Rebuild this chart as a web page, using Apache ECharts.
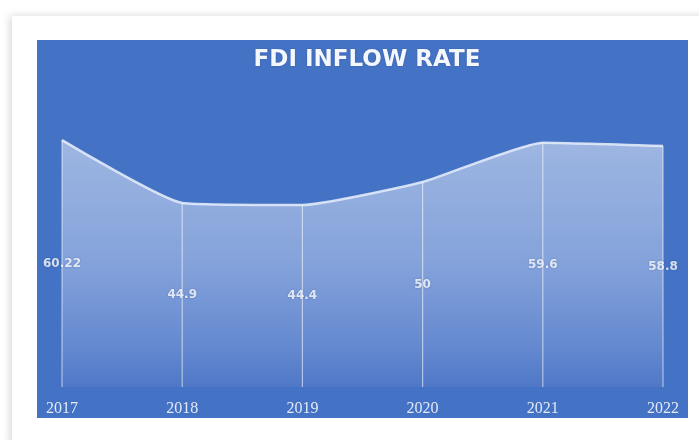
<!DOCTYPE html>
<html><head><meta charset="utf-8">
<script src="https://cdn.jsdelivr.net/npm/echarts@6/dist/echarts.min.js"></script>
<style>html,body{margin:0;padding:0;background:#fff}#c{width:699px;height:440px}</style>
</head><body><div id="c"></div>
<script>
const years = ['2017','2018','2019','2020','2021','2022'];
const fdiValues = [60.22, 44.9, 44.4, 50, 59.6, 58.8];
const labelTexts = ['60.22','44.9','44.4','50','59.6','58.8'];

const chart = echarts.init(document.getElementById('c'));
chart.setOption({
  backgroundColor: '#ffffff',
  animation: false,
  graphic: [
    {type:'rect', shape:{x:12,y:16,width:700,height:430}, style:{fill:'#ffffff', shadowBlur:8, shadowColor:'rgba(0,0,0,0.16)', shadowOffsetX:-2}, z:-10},
    {type:'rect', shape:{x:37,y:40,width:651,height:378}, style:{fill:'#4472c4'}, z:-5}
  ],
  title: {
    text: 'FDI INFLOW RATE', left: 362, top: 44, textAlign: 'center',
    textStyle: {color:'#f4f7fd', fontFamily:'DejaVu Sans', fontWeight:'bold', fontSize:23, textShadowColor:'rgba(0,0,0,0.2)', textShadowBlur:2}
  },
  grid: {left: 62, right: 36, top: 100, bottom: 53},
  xAxis: {
    type:'category', data: years, boundaryGap:false,
    axisLine:{show:false}, axisTick:{show:false}, splitLine:{show:false},
    axisLabel:{color:'#e3eaf8', fontFamily:'Liberation Serif', fontSize:16, margin:14}
  },
  yAxis: {type:'value', min:0, max:70, show:false},
  series: [
    {
      type:'line', data: fdiValues, symbol:'none', smooth:0.15,
      lineStyle:{color:'rgba(225,234,250,0.9)', width:2.5},
      areaStyle:{color:{type:'linear', x:0,y:0,x2:0,y2:1, colorStops:[
        {offset:0, color:'rgba(196,211,238,1)'},
        {offset:0.5, color:'rgba(160,183,228,1)'},
        {offset:0.85, color:'rgba(112,145,212,1)'},
        {offset:1, color:'rgba(84,122,200,1)'}]}},
      z:2
    },
    {
      type:'bar', data: fdiValues, barWidth:1.2, barGap:'-100%',
      itemStyle:{color:'rgba(255,255,255,0.55)'}, z:3, silent:true
    },
    {
      type:'scatter', symbolSize:0, z:5,
      data: fdiValues.map((v,i)=>[i, v/2]),
      label:{show:true, position:'inside', formatter:(p)=>labelTexts[p.dataIndex],
        color:'#ffffff', fontFamily:'DejaVu Sans', fontWeight:'bold', fontSize:12,
        textShadowColor:'rgba(40,70,130,0.5)', textShadowBlur:2}
    }
  ]
});
</script></body></html>
